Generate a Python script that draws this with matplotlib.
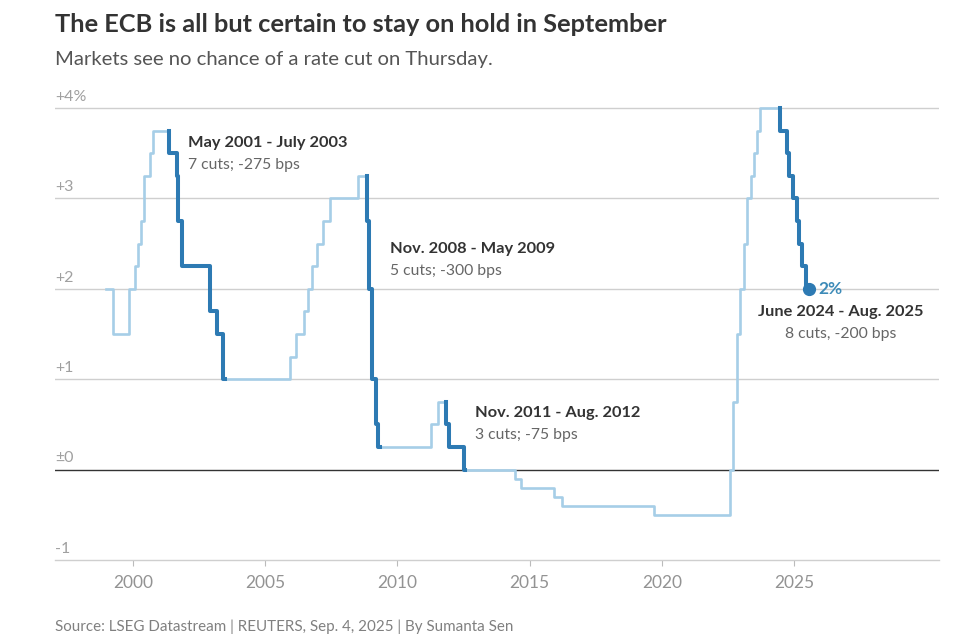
import matplotlib
matplotlib.use("Agg")
import matplotlib.pyplot as plt
import pandas as pd

plt.rcParams['font.family'] = ['Lato', 'DejaVu Sans']

# ECB deposit facility rate, date of each change and new level (%)
rate_dates = [
    "1999-01-01", "1999-04-09", "1999-11-05", "2000-02-04", "2000-03-17",
    "2000-04-28", "2000-06-09", "2000-09-01", "2000-10-06", "2001-05-11",
    "2001-08-31", "2001-09-18", "2001-11-09", "2002-12-06", "2003-03-07",
    "2003-06-06", "2005-12-06", "2006-03-08", "2006-06-15", "2006-08-09",
    "2006-10-11", "2006-12-13", "2007-03-14", "2007-06-13", "2008-07-09",
    "2008-11-12", "2008-12-10", "2009-01-21", "2009-03-11", "2009-04-08",
    "2011-04-13", "2011-07-13", "2011-11-09", "2011-12-14", "2012-07-11",
    "2014-06-11", "2014-09-10", "2015-12-09", "2016-03-16", "2019-09-18",
    "2022-07-27", "2022-09-14", "2022-11-02", "2022-12-21", "2023-02-08",
    "2023-03-22", "2023-05-10", "2023-06-21", "2023-08-02", "2023-09-20",
    "2024-06-12", "2024-09-18", "2024-10-23", "2024-12-18", "2025-02-05",
    "2025-03-12", "2025-04-23", "2025-06-11",
]
rates = [
    2.0, 1.5, 2.0, 2.25, 2.5,
    2.75, 3.25, 3.5, 3.75, 3.5,
    3.25, 2.75, 2.25, 1.75, 1.5,
    1.0, 1.25, 1.5, 1.75, 2.0,
    2.25, 2.5, 2.75, 3.0, 3.25,
    2.75, 2.0, 1.0, 0.5, 0.25,
    0.5, 0.75, 0.5, 0.25, 0.0,
    -0.1, -0.2, -0.3, -0.4, -0.5,
    0.0, 0.75, 1.5, 2.0, 2.5,
    3.0, 3.25, 3.5, 3.75, 4.0,
    3.75, 3.5, 3.25, 3.0, 2.75,
    2.5, 2.25, 2.0,
]
last_date = "2025-07-24"

# easing cycles that get the dark line
cycle_starts = ["2001-05-11", "2008-11-12", "2011-11-09", "2024-06-12"]
cycle_ends = ["2003-07-01", "2009-05-13", "2012-07-20", "2025-07-24"]
cycle_titles = ["May 2001 - July 2003", "Nov. 2008 - May 2009",
                "Nov. 2011 - Aug. 2012", "June 2024 - Aug. 2025"]
cycle_notes = ["7 cuts; -275 bps", "5 cuts; -300 bps",
               "3 cuts; -75 bps", "8 cuts, -200 bps"]

x_ticks = [2000, 2005, 2010, 2015, 2020, 2025]
y_ticks = [-1, 0, 1, 2, 3, 4]
y_labels = ["-1", "±0", "+1", "+2", "+3", "+4%"]

LIGHT = "#a6cee7"
DARK = "#2d7ab3"


def dec_year(s):
    d = pd.Timestamp(s)
    n = 366 if d.is_leap_year else 365
    return d.year + (d.dayofyear - 1) / n


# step vertices
xs, ys = [], []
for i, (d, r) in enumerate(zip(rate_dates, rates)):
    t = dec_year(d)
    if i > 0:
        xs.append(t)
        ys.append(rates[i - 1])
    xs.append(t)
    ys.append(r)
xs.append(dec_year(last_date))
ys.append(rates[-1])


def rate_at(t):
    v = rates[0]
    for d, r in zip(rate_dates, rates):
        if dec_year(d) <= t:
            v = r
    return v


fig = plt.figure(figsize=(9.76, 6.36), dpi=100)
ax = fig.add_axes([0.0564, 0.1195, 0.9056, 0.7178])

ax.plot(xs, ys, color=LIGHT, lw=1.9, zorder=3)

for s, e in zip(cycle_starts, cycle_ends):
    ts, te = dec_year(s), dec_year(e)
    hx = [x for x in xs if ts <= x <= te]
    hy = [y for x, y in zip(xs, ys) if ts <= x <= te]
    hx.append(te)
    hy.append(rate_at(te))
    ax.plot(hx, hy, color=DARK, lw=2.9, zorder=4)

ax.plot(xs[-1], ys[-1], 'o', color=DARK, ms=8.5, zorder=5)
ax.text(xs[-1] + 0.35, ys[-1], "2%", color="#3d8bb8", fontsize=12.5,
        fontweight='bold', va='center', ha='left')

ax.set_xlim(1997.06, 2030.47)
ax.set_ylim(-1, 4.05)

for v in y_ticks:
    if v == 0:
        ax.axhline(v, color="#333333", lw=1.0, zorder=2)
    elif v != -1:
        ax.axhline(v, color="#cfcfcf", lw=1.0, zorder=1)
for v, lab in zip(y_ticks, y_labels):
    ax.annotate(lab, xy=(0, v), xycoords=ax.get_yaxis_transform(),
                xytext=(0, 3), textcoords='offset points',
                ha='left', va='bottom', color="#a0a0a0", fontsize=11.5)

ax.set_yticks([])
ax.set_xticks(x_ticks)
ax.set_xticklabels([str(x) for x in x_ticks])
ax.tick_params(axis='x', length=4, width=0.8, color="#bbbbbb",
               labelcolor="#939393", labelsize=12.5, pad=7)
for side in ['top', 'left', 'right']:
    ax.spines[side].set_visible(False)
ax.spines['bottom'].set_color("#cfcfcf")
ax.spines['bottom'].set_linewidth(1.0)

# cycle labels
label_pos = [(2002.1, 3.61, 'left'), (2009.72, 2.44, 'left'),
             (2012.94, 0.63, 'left'), (2026.77, 1.74, 'center')]
for (lx, ly, ha), t1, t2 in zip(label_pos, cycle_titles, cycle_notes):
    ax.text(lx, ly, t1, fontsize=11.8, fontweight='bold', color="#333333",
            ha=ha, va='center')
    ax.text(lx, ly - 0.245, t2, fontsize=11.3, color="#666666",
            ha=ha, va='center')

fig.text(0.0564, 0.962, "The ECB is all but certain to stay on hold in September",
         fontsize=18.3, fontweight='bold', color="#333333", va='center')
fig.text(0.0564, 0.906, "Markets see no chance of a rate cut on Thursday.",
         fontsize=14.6, color="#555555", va='center')
fig.text(0.0564, 0.014, "Source: LSEG Datastream | REUTERS, Sep. 4, 2025 | By Sumanta Sen",
         fontsize=10.9, color="#808080", va='center')

fig.savefig("out.png", dpi=100)
